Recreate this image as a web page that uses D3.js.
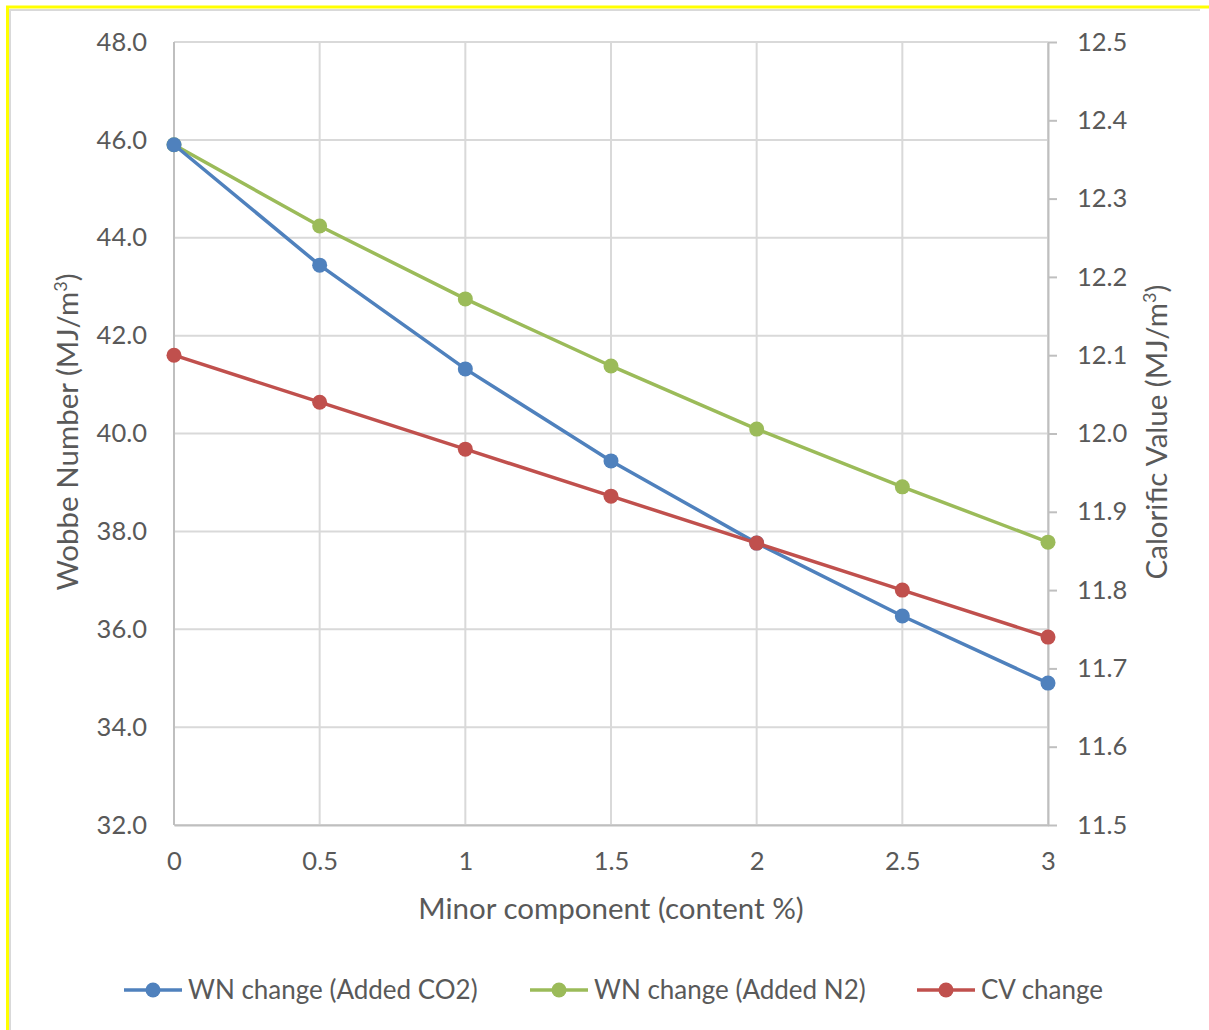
<!DOCTYPE html>
<html><head><meta charset="utf-8">
<script src="https://cdn.jsdelivr.net/npm/d3@7"></script>
<style>body{margin:0;background:#fff;} text{font-family:Lato,"Open Sans",sans-serif;fill:#595959;}</style>
</head><body>
<svg id="c" width="1209" height="1030"></svg>
<script>
const categories = ["0","0.5","1","1.5","2","2.5","3"];
const wnCO2 = [45.9, 43.44, 41.32, 39.44, 37.76, 36.27, 34.90];
const wnN2  = [45.9, 44.24, 42.75, 41.38, 40.09, 38.91, 37.78];
const cv    = [12.10, 12.04, 11.98, 11.92, 11.86, 11.80, 11.74];
const leftTicks = [32,34,36,38,40,42,44,46,48];
const rightTicks = [11.5,11.6,11.7,11.8,11.9,12.0,12.1,12.2,12.3,12.4,12.5];
const seriesNames = ["WN change (Added CO2)","WN change (Added N2)","CV change"];
const colors = ["#4f81bd","#9bbb59","#c0504d"];

const FONT = "Lato,'Open Sans',sans-serif";
const svg = d3.select("#c");
// frame
svg.append("rect").attr("x",0).attr("y",0).attr("width",1209).attr("height",1030).attr("fill","#fff");
svg.append("line").attr("x1",9).attr("x2",1200).attr("y1",10).attr("y2",10).attr("stroke","#d9d9d9").attr("stroke-width",2);
svg.append("line").attr("x1",10).attr("x2",10).attr("y1",9).attr("y2",1030).attr("stroke","#d9d9d9").attr("stroke-width",2);
svg.append("line").attr("x1",6).attr("x2",1209).attr("y1",7).attr("y2",7).attr("stroke","#ffff00").attr("stroke-width",3);
svg.append("line").attr("x1",7.5).attr("x2",7.5).attr("y1",6).attr("y2",1030).attr("stroke","#ffff00").attr("stroke-width",3);

const x = d3.scalePoint().domain(categories).range([174,1048]);
const yL = d3.scaleLinear().domain([32,48]).range([825,42]);
const yR = d3.scaleLinear().domain([11.5,12.5]).range([825,42]);

// gridlines
const g = svg.append("g");
g.selectAll("line.h").data(leftTicks).join("line")
  .attr("x1",174).attr("x2",1048).attr("y1",d=>yL(d)).attr("y2",d=>yL(d))
  .attr("stroke","#d9d9d9").attr("stroke-width",2);
g.selectAll("line.v").data(categories).join("line").attr("class","v")
  .attr("x1",d=>x(d)).attr("x2",d=>x(d)).attr("y1",42).attr("y2",825)
  .attr("stroke","#d9d9d9").attr("stroke-width",2);

// left axis labels
const la = svg.append("g").attr("transform","translate(147,0)")
  .call(d3.axisLeft(yL).tickValues(leftTicks).tickFormat(d3.format(".1f")).tickSize(0).tickPadding(0));
la.select(".domain").remove();
la.selectAll("text").attr("font-size",25.5).attr("fill","#595959").attr("font-family",FONT);

// right axis
const ra = svg.append("g").attr("transform","translate(1048,0)")
  .call(d3.axisRight(yR).tickValues(rightTicks).tickFormat(d3.format(".1f")).tickSize(9).tickPadding(20).tickSizeOuter(0));
ra.select(".domain").attr("stroke","#bfbfbf").attr("stroke-width",2);
ra.selectAll(".tick line").attr("stroke","#bfbfbf").attr("stroke-width",2);
ra.selectAll("text").attr("font-size",25.5).attr("fill","#595959").attr("font-family",FONT);

// bottom axis
const ba = svg.append("g").attr("transform","translate(0,825)")
  .call(d3.axisBottom(x).tickSize(0).tickPadding(27));
ba.select(".domain").attr("stroke","#bfbfbf").attr("stroke-width",2);
ba.selectAll("text").attr("font-size",25.5).attr("fill","#595959").attr("font-family",FONT);
// left axis line
svg.append("line").attr("x1",174).attr("x2",174).attr("y1",42).attr("y2",825).attr("stroke","#bfbfbf").attr("stroke-width",2);

// titles
svg.append("text").attr("x",611).attr("y",919).attr("text-anchor","middle").attr("font-size",29.5).text("Minor component (content %)");
const lt = svg.append("text").attr("transform","translate(78,432) rotate(-90)").attr("text-anchor","middle").attr("font-size",29.5);
lt.append("tspan").text("Wobbe Number (MJ/m");
lt.append("tspan").attr("font-size",18).attr("dy",-11).text("3");
lt.append("tspan").attr("dy",11).text(")");
const rt = svg.append("text").attr("transform","translate(1167,432) rotate(-90)").attr("text-anchor","middle").attr("font-size",29.5);
rt.append("tspan").text("Calorific Value (MJ/m");
rt.append("tspan").attr("font-size",18).attr("dy",-11).text("3");
rt.append("tspan").attr("dy",11).text(")");

// series
const series = [
  {vals: wnCO2, y: yL, color: colors[0]},
  {vals: wnN2, y: yL, color: colors[1]},
  {vals: cv, y: yR, color: colors[2]}
];
const drawOrder = [1,0,2];
drawOrder.forEach(i => {
  const s = series[i];
  const line = d3.line().x((d,j)=>x(categories[j])).y(d=>s.y(d));
  svg.append("path").datum(s.vals).attr("d",line).attr("fill","none").attr("stroke",s.color).attr("stroke-width",3.5);
  svg.append("g").selectAll("circle").data(s.vals).join("circle")
    .attr("cx",(d,j)=>x(categories[j])).attr("cy",d=>s.y(d)).attr("r",7.5).attr("fill",s.color);
});

// legend
const legX = [124, 530, 917];
const lg = svg.append("g");
seriesNames.forEach((n,i)=>{
  const gx = legX[i];
  lg.append("line").attr("x1",gx).attr("x2",gx+58).attr("y1",990).attr("y2",990).attr("stroke",colors[i]).attr("stroke-width",3.5);
  lg.append("circle").attr("cx",gx+29).attr("cy",990).attr("r",7.5).attr("fill",colors[i]);
  lg.append("text").attr("x",gx+64).attr("y",999).attr("font-size",26).text(n);
});
</script>
</body></html>
